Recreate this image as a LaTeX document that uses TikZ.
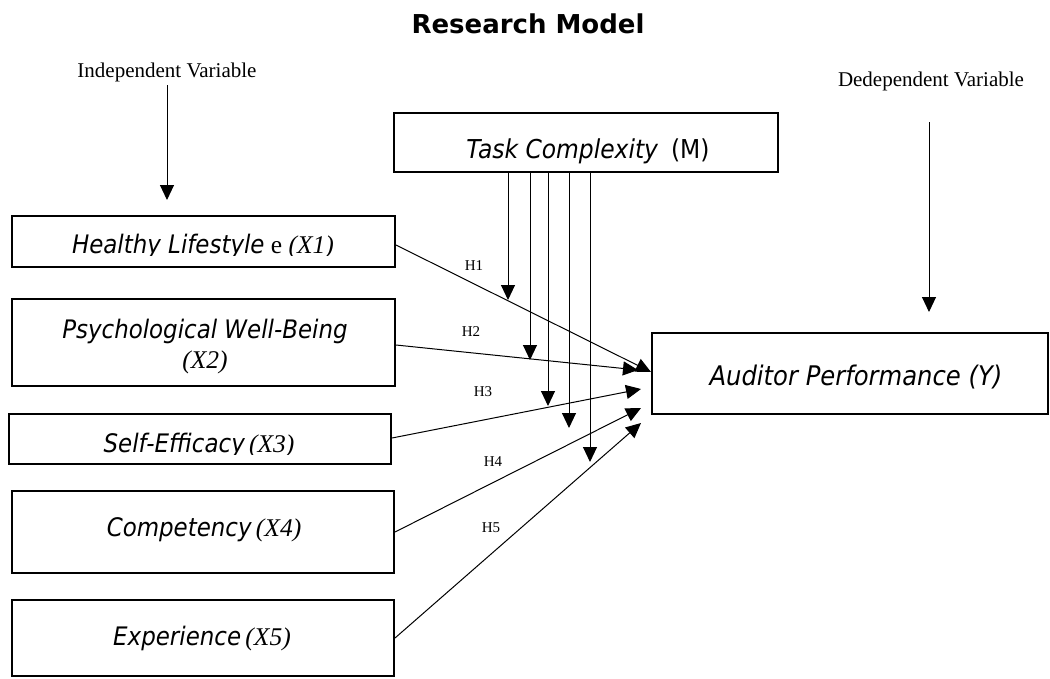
\documentclass[tikz,border=0pt]{standalone}
\usepackage{fontspec}
\setmainfont{Liberation Serif}
\newfontfamily\tah{DejaVu Sans Condensed}
\newfontfamily\vb{DejaVu Sans}
\usetikzlibrary{arrows.meta}
\begin{document}
\begin{tikzpicture}[x=1pt,y=-1pt,
  box/.style={draw,line width=2pt,inner sep=0pt},
  arr/.style={line width=1pt,-{Triangle[length=15pt,width=14pt]}},
  lbl/.style={inner sep=0pt,font=\fontsize{15}{18}\selectfont},
  bt/.style={inner sep=0pt,anchor=base,font=\fontsize{25.5}{30}\selectfont},
  vt/.style={inner sep=0pt,anchor=base,font=\fontsize{21}{25}\selectfont}]
\useasboundingbox (0,0) rectangle (1050,678);
% title
\node[inner sep=0pt,anchor=base,font=\vb\bfseries\fontsize{26}{30}\selectfont] (title) at (528,33) {Research Model};
% side labels
\node[vt] (ind) at (167,77) {Independent Variable};
\node[vt] (dep) at (931,86) {Dedependent Variable};
% boxes
\node[box,minimum width=383pt,minimum height=51pt] (x1) at (203.5,241.5) {};
\node[box,minimum width=383pt,minimum height=87pt] (x2) at (203.5,342.5) {};
\node[box,minimum width=382pt,minimum height=50pt] (x3) at (200,439) {};
\node[box,minimum width=382pt,minimum height=82pt] (x4) at (203,532) {};
\node[box,minimum width=382pt,minimum height=76pt] (x5) at (203,638) {};
\node[box,minimum width=384pt,minimum height=59pt] (m) at (586,142.5) {};
\node[box,minimum width=396pt,minimum height=81pt] (y) at (850,373.5) {};
% box texts
\begin{scope}
\clip (12,200) rectangle (395,255);
\node[bt] (x1t) at (203,253) {{\tah\itshape Healthy Lifestyle} e {\itshape (X1)}};
\end{scope}
\node[inner sep=0pt,align=center,font=\fontsize{25.5}{30}\selectfont] (x2t) at (205,347) {{\tah\itshape Psychological Well-Being}\\{\itshape (X2)}};
\begin{scope}
\clip (9,400) rectangle (391,454);
\node[bt] (x3t) at (199,452) {{\tah\itshape Self-Efficacy}\,{\itshape (X3)}};
\end{scope}
\node[bt] (x4t) at (204,536) {{\tah\itshape Competency}\,{\itshape (X4)}};
\node[bt] (x5t) at (202,645) {{\tah\itshape Experience}\,{\itshape (X5)}};
\node[bt,font=\fontsize{26}{30}\selectfont] (mt) at (588,158) {{\tah\itshape Task Complexity}\ \ {\tah (M)}};
\node[bt,font=\fontsize{27}{32}\selectfont] (yt) at (856,385) {\tah\itshape Auditor Performance (Y)};
% variable arrows
\coordinate (ib) at (166,200);
\draw[arr] (ind.south |- 0,85) -- (ind.south |- ib);
\coordinate (da) at (929,122);
\coordinate (db) at (929,312);
\draw[arr] (da) -- (db);
% hypotheses arrows
\coordinate (e1) at (651,372);
\coordinate (e2) at (638,370);
\coordinate (e3) at (641,389);
\coordinate (e4) at (641,408);
\coordinate (e5) at (641,423);
\draw[arr] (x1.east |- 0,245) -- (e1);
\draw[arr] (x2.east |- 0,345) -- (e2);
\draw[arr] (x3.east |- 0,438) -- (e3);
\draw[arr] (x4.east) -- (e4);
\draw[arr] (x5.east) -- (e5);
% moderator arrows
\coordinate (t1) at (508,300);
\coordinate (t2) at (530,360);
\coordinate (t3) at (548,406);
\coordinate (t4) at (569,428);
\coordinate (t5) at (590,462);
\foreach \t in {t1,t2,t3,t4,t5} \draw[arr] (\t |- m.south) -- (\t);
% labels
\node[lbl] (h1) at (474,266) {H1};
\node[lbl] (h2) at (471,332) {H2};
\node[lbl] (h3) at (483,392) {H3};
\node[lbl] (h4) at (493,462) {H4};
\node[lbl] (h5) at (491,528) {H5};
\end{tikzpicture}
\end{document}
